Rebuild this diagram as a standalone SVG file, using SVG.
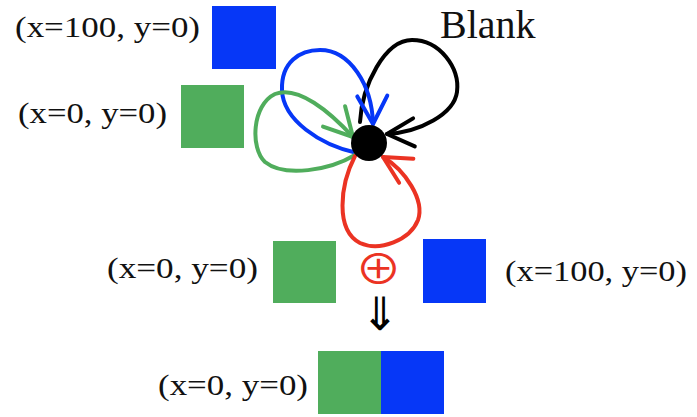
<svg xmlns="http://www.w3.org/2000/svg" width="697" height="417" viewBox="0 0 697 417">
  <style>
    .lbl { font-family: "Liberation Serif", "Times New Roman", serif; font-size: 29px; fill: #111; }
    .title { font-family: "Liberation Serif", "Times New Roman", serif; font-size: 40px; fill: #111; }
    .loop { fill: none; stroke-width: 4; stroke-linecap: round; stroke-linejoin: round; }
    .g { fill: #50ad5c; }
    .b { fill: #0637f7; }
  </style>
  <defs>
    <marker id="ah-black" markerUnits="userSpaceOnUse" markerWidth="40" markerHeight="40" viewBox="-32 -20 40 40" refX="0" refY="0" orient="auto">
      <path d="M-27,-14 L0,0 L-27,14" fill="none" stroke="#000" stroke-width="4" stroke-linecap="round" stroke-linejoin="round"/>
    </marker>
    <marker id="ah-blue" markerUnits="userSpaceOnUse" markerWidth="40" markerHeight="40" viewBox="-32 -20 40 40" refX="0" refY="0" orient="auto">
      <path d="M-28,-15 L0,0 L-28,15" fill="none" stroke="#0637f7" stroke-width="4" stroke-linecap="round" stroke-linejoin="round"/>
    </marker>
    <marker id="ah-green" markerUnits="userSpaceOnUse" markerWidth="40" markerHeight="40" viewBox="-32 -20 40 40" refX="0" refY="0" orient="auto">
      <path d="M-28,-15 L0,0 L-28,15" fill="none" stroke="#50ad5c" stroke-width="4" stroke-linecap="round" stroke-linejoin="round"/>
    </marker>
    <marker id="ah-red" markerUnits="userSpaceOnUse" markerWidth="40" markerHeight="40" viewBox="-32 -20 40 40" refX="0" refY="0" orient="auto">
      <path d="M-27,-14 L0,0 L-27,14" fill="none" stroke="#eb3323" stroke-width="4" stroke-linecap="round" stroke-linejoin="round"/>
    </marker>
  </defs>

  <g id="title-blank">
    <text class="title" x="440" y="38">Blank</text>
  </g>

  <g id="tile-blue-top">
    <text class="lbl" x="15" y="37" textLength="185" lengthAdjust="spacingAndGlyphs">(x=100, y=0)</text>
    <rect class="b" x="212" y="6" width="64" height="63"/>
  </g>

  <g id="tile-green-top">
    <text class="lbl" x="18" y="123" textLength="149" lengthAdjust="spacingAndGlyphs">(x=0, y=0)</text>
    <rect class="g" x="181" y="85" width="63" height="63"/>
  </g>

  <g id="connectors">
    <path class="loop" stroke="#000" d="M360,122 C362,85 385,40 412,40 C440,40 460,68 457,92 C454,114 420,132 387,134" marker-end="url(#ah-black)"/>
    <path class="loop" stroke="#0637f7" d="M357,153 C320,145 283,120 282,90 C281,62 300,50 320,50 C350,50 372,85 373,124" marker-end="url(#ah-blue)"/>
    <path class="loop" stroke="#50ad5c" d="M355,155 C330,170 285,178 265,162 C250,148 252,105 275,94 C298,85 330,112 353,137" marker-end="url(#ah-green)"/>
    <path class="loop" stroke="#eb3323" d="M355,156 C340,185 335,230 360,243 C380,252 410,240 418,220 C425,200 405,170 383,157" marker-end="url(#ah-red)"/>
  </g>

  <g id="node-blank">
    <circle cx="369" cy="143" r="18" fill="#000"/>
  </g>

  <g id="tile-green-mid">
    <text class="lbl" x="107" y="278" textLength="151" lengthAdjust="spacingAndGlyphs">(x=0, y=0)</text>
    <rect class="g" x="273" y="241" width="63" height="62"/>
  </g>

  <g id="op-plus">
    <text x="378.5" y="286.8" text-anchor="middle" font-family="'Noto Sans CJK JP', 'DejaVu Sans', sans-serif" font-size="47" fill="#eb3323" transform="translate(378.5,270) scale(1,0.86) translate(-378.5,-270)">⊕</text>
  </g>

  <g id="tile-blue-mid">
    <rect class="b" x="423" y="239" width="63" height="64"/>
    <text class="lbl" x="505" y="281" textLength="182" lengthAdjust="spacingAndGlyphs">(x=100, y=0)</text>
  </g>

  <g id="op-implies">
    <text x="380" y="330" text-anchor="middle" font-family="'DejaVu Sans', sans-serif" font-size="46" fill="#000">⇓</text>
  </g>

  <g id="tile-result">
    <text class="lbl" x="158" y="395" textLength="150" lengthAdjust="spacingAndGlyphs">(x=0, y=0)</text>
    <rect class="g" x="318" y="351" width="63" height="63"/>
    <rect class="b" x="381" y="351" width="63" height="63"/>
  </g>
</svg>
